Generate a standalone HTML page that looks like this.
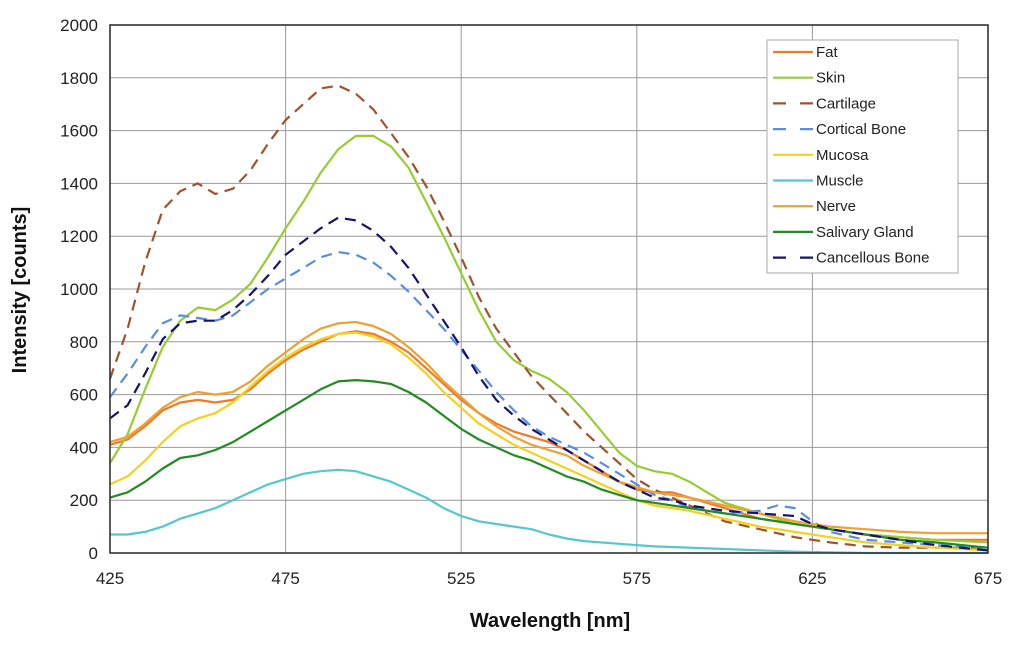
<!DOCTYPE html>
<html><head><meta charset="utf-8"><style>
body{margin:0;background:#fff;}
svg{display:block;font-family:"Liberation Sans",Arial,sans-serif;}
</style></head><body>
<svg id="chart" width="1024" height="645">
<g id="grid"></g>
<g id="series"></g>
<g id="axes"></g>
<text x="26" y="290" transform="rotate(-90 26 290)" text-anchor="middle" font-size="20" font-weight="bold" fill="#111">Intensity [counts]</text>
<text x="550" y="627" text-anchor="middle" font-size="20" font-weight="bold" fill="#111">Wavelength [nm]</text>
<g id="legend"></g>
</svg>
<script>
const xTicks=[425,475,525,575,625,675];
const yTicks=[0,200,400,600,800,1000,1200,1400,1600,1800,2000];
const fat=[[425,410],[430,430],[435,480],[440,540],[445,570],[450,580],[455,570],[460,580],[465,620],[470,680],[475,730],[480,770],[485,800],[490,830],[495,840],[500,830],[505,800],[510,760],[515,700],[520,640],[525,580],[530,530],[535,490],[540,460],[545,440],[550,420],[555,390],[560,350],[565,310],[570,270],[575,240],[580,230],[585,230],[590,210],[600,170],[610,130],[620,110],[630,90],[640,70],[650,60],[660,50],[675,50]];
const skin=[[425,340],[430,450],[435,620],[440,780],[445,880],[450,930],[455,920],[460,960],[465,1020],[470,1120],[475,1230],[480,1330],[485,1440],[490,1530],[495,1580],[500,1580],[505,1540],[510,1460],[515,1330],[520,1200],[525,1060],[530,920],[535,800],[540,730],[545,690],[550,660],[555,610],[560,540],[565,460],[570,380],[575,330],[580,310],[585,300],[590,270],[595,230],[600,190],[610,150],[620,110],[630,90],[640,70],[650,60],[660,50],[675,40]];
const cartilage=[[425,660],[430,850],[435,1100],[440,1300],[445,1370],[450,1400],[455,1360],[460,1380],[465,1450],[470,1550],[475,1640],[480,1700],[485,1760],[490,1770],[495,1740],[500,1680],[505,1590],[510,1500],[515,1390],[520,1260],[525,1120],[530,970],[535,850],[540,760],[545,670],[550,600],[555,530],[560,460],[565,400],[570,340],[575,280],[580,240],[585,210],[590,180],[595,150],[600,120],[610,90],[620,60],[630,40],[640,25],[650,20],[660,20],[675,20]];
const cortical=[[425,590],[430,680],[435,780],[440,870],[445,900],[450,890],[455,880],[460,900],[465,950],[470,1000],[475,1040],[480,1080],[485,1120],[490,1140],[495,1130],[500,1100],[505,1050],[510,990],[515,920],[520,850],[525,770],[530,690],[535,610],[540,540],[545,480],[550,440],[555,410],[560,380],[565,340],[570,300],[575,260],[580,220],[585,200],[590,170],[600,150],[610,160],[615,180],[620,170],[625,120],[630,80],[640,50],[650,40],[660,30],[675,20]];
const mucosa=[[425,260],[430,290],[435,350],[440,420],[445,480],[450,510],[455,530],[460,570],[465,630],[470,690],[475,740],[480,780],[485,810],[490,830],[495,835],[500,820],[505,790],[510,740],[515,680],[520,610],[525,550],[530,490],[535,450],[540,410],[545,380],[550,350],[555,320],[560,290],[565,260],[570,230],[575,200],[580,180],[590,160],[600,130],[610,100],[620,80],[630,60],[640,40],[650,30],[660,20],[675,10]];
const muscle=[[425,70],[430,70],[435,80],[440,100],[445,130],[450,150],[455,170],[460,200],[465,230],[470,260],[475,280],[480,300],[485,310],[490,315],[495,310],[500,290],[505,270],[510,240],[515,210],[520,170],[525,140],[530,120],[535,110],[540,100],[545,90],[550,70],[555,55],[560,45],[570,35],[580,25],[600,15],[620,5],[640,0],[675,0]];
const nerve=[[425,420],[430,440],[435,490],[440,550],[445,590],[450,610],[455,600],[460,610],[465,650],[470,710],[475,760],[480,810],[485,850],[490,870],[495,875],[500,860],[505,830],[510,780],[515,720],[520,650],[525,590],[530,530],[535,480],[540,440],[545,410],[550,390],[555,370],[560,330],[565,300],[570,270],[575,250],[580,230],[590,210],[600,180],[610,150],[620,120],[630,100],[640,90],[650,80],[660,75],[675,75]];
const salivary=[[425,210],[430,230],[435,270],[440,320],[445,360],[450,370],[455,390],[460,420],[465,460],[470,500],[475,540],[480,580],[485,620],[490,650],[495,655],[500,650],[505,640],[510,610],[515,570],[520,520],[525,470],[530,430],[535,400],[540,370],[545,350],[550,320],[555,290],[560,270],[565,240],[570,220],[575,200],[580,190],[590,170],[600,150],[610,130],[620,110],[630,90],[640,70],[650,50],[660,40],[675,20]];
const cancellous=[[425,510],[430,560],[435,680],[440,810],[445,870],[450,880],[455,880],[460,920],[465,980],[470,1050],[475,1130],[480,1180],[485,1230],[490,1270],[495,1260],[500,1220],[505,1160],[510,1080],[515,980],[520,880],[525,780],[530,670],[535,580],[540,520],[545,470],[550,430],[555,390],[560,350],[565,310],[570,270],[575,240],[580,210],[585,200],[590,180],[600,160],[610,150],[620,140],[625,110],[630,90],[640,70],[650,50],[660,30],[675,10]];

const seriesNames=["Fat","Skin","Cartilage","Cortical Bone","Mucosa","Muscle","Nerve","Salivary Gland","Cancellous Bone"];
const seriesData=[fat,skin,cartilage,cortical,mucosa,muscle,nerve,salivary,cancellous];
const colors=["#f07a28","#99cc33","#a0522d","#5b8de0","#f5d020","#55c8cc","#f0a030","#228b22","#14146e"];
const dashed=[false,false,true,true,false,false,false,false,true];

const X0=110,X1=988,Y0=553,Y1=25;
const sx=v=>X0+(v-425)/(675-425)*(X1-X0);
const sy=v=>Y0-(v/2000)*(Y0-Y1);
const NS="http://www.w3.org/2000/svg";
function mk(tag,attrs,parent){const e=document.createElementNS(NS,tag);for(const k in attrs)e.setAttribute(k,attrs[k]);parent.appendChild(e);return e;}
const grid=document.getElementById('grid'),axes=document.getElementById('axes'),sg=document.getElementById('series'),lg=document.getElementById('legend');
mk('rect',{x:X0,y:Y1,width:X1-X0,height:Y0-Y1,fill:'#fff'},grid);
yTicks.forEach(t=>{
  const l=mk('line',{x1:X0,x2:X1,y1:sy(t),y2:sy(t),stroke:'#999','stroke-width':1},grid);
  
  
  const tx=mk('text',{x:X0-12,y:sy(t)+6,'text-anchor':'end','font-size':17,fill:'#222'},axes);
  tx.textContent=t;
  
  
});
xTicks.forEach(t=>{
  const l=mk('line',{x1:sx(t),x2:sx(t),y1:Y1,y2:Y0,stroke:'#999','stroke-width':1},grid);
  
  
  const tx=mk('text',{x:sx(t),y:Y0+31,'text-anchor':'middle','font-size':17,fill:'#222'},axes);
  tx.textContent=t;
  
  
});
const fr=mk('rect',{x:X0,y:Y1,width:X1-X0,height:Y0-Y1,fill:'none',stroke:'#333','stroke-width':1.6},axes);


seriesData.forEach((d,i)=>{
  const p=mk('polyline',{points:d.map(q=>sx(q[0]).toFixed(1)+','+sy(q[1]).toFixed(1)).join(' '),fill:'none',stroke:colors[i],'stroke-width':2.2,'stroke-linejoin':'round'},sg);
  if(dashed[i])p.setAttribute('stroke-dasharray','11,7');
  
  
});
const lb=mk('rect',{x:767,y:40,width:191,height:233,fill:'#fff',stroke:'#aaa','stroke-width':1},lg);


seriesNames.forEach((n,i)=>{
  const y=52+i*25.7;
  const g=mk('g',{},lg);
  
  
  const l=mk('line',{x1:773,x2:813,y1:y,y2:y,stroke:colors[i],'stroke-width':2.2},g);
  if(dashed[i])l.setAttribute('stroke-dasharray','13,14');
  const t=mk('text',{x:816,y:y+5,'font-size':15,fill:'#222'},g);
  t.textContent=n;
});
</script>
</body></html>
